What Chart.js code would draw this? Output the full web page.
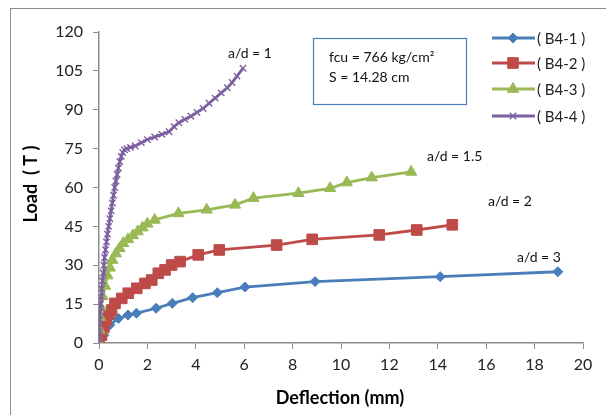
<!DOCTYPE html>
<html>
<head>
<meta charset="utf-8">
<script src="https://cdn.jsdelivr.net/npm/chart.js@4.4.0/dist/chart.umd.min.js"></script>
<style>
  html, body { margin: 0; padding: 0; background: #fff; overflow: hidden; }
  #wrap { position: relative; width: 606px; height: 415px; }
  #frame { position: absolute; left: 10px; top: 8px; width: 610px; height: 420px; border: 1px solid #8c8c8c; box-sizing: border-box; }
  canvas { position: absolute; left: 0; top: 0; }
</style>
</head>
<body>
<div id="wrap">
  <div id="frame"></div>
  <canvas id="graph1" width="606" height="415"></canvas>
</div>
<script>
// deflection (mm) and load (T) for each beam
var b41X = [0, 0.2, 0.45, 0.8, 1.2, 1.55, 2.36, 3.03, 3.87, 4.89, 6.03, 8.93, 14.1, 18.96];
var b41Y = [0, 3, 7, 9.5, 10.8, 11.5, 13.4, 15.3, 17.5, 19.4, 21.6, 23.7, 25.6, 27.5];

var b42X = [0, 0.1, 0.2, 0.3, 0.4, 0.52, 0.66, 0.94, 1.21, 1.56, 1.9, 2.18, 2.45, 2.73, 3.0, 3.35, 4.1, 4.97, 7.34, 8.81, 11.58, 13.13, 14.6];
var b42Y = [0, 3, 6, 9, 11, 12.7, 15.3, 17.2, 19.2, 21.1, 23.0, 24.3, 26.9, 28.2, 30.1, 31.4, 34, 35.9, 37.8, 40, 41.7, 43.6, 45.6];

var b43X = [0, 0.02, 0.04, 0.06, 0.15, 0.25, 0.35, 0.45, 0.55, 0.7, 0.85, 1.0, 1.2, 1.4, 1.6, 1.8, 2.0, 2.3, 3.28, 4.45, 5.62, 6.38, 8.24, 9.55, 10.24, 11.27, 12.9];
var b43Y = [0, 5, 10, 14, 18, 22, 26, 29, 32, 34.5, 36.5, 38.5, 40, 41.5, 43, 44.5, 46, 47.5, 50, 51.4, 53.3, 55.9, 57.8, 59.7, 61.9, 63.8, 66];

var b44X = [0, 0.01, 0.02, 0.03, 0.05, 0.07, 0.09, 0.11, 0.14, 0.17, 0.2, 0.23, 0.27, 0.31, 0.35, 0.4, 0.45, 0.5, 0.55, 0.6, 0.65, 0.7, 0.75, 0.8, 0.86, 0.92, 0.98, 1.05, 1.15, 1.3, 1.5, 1.75, 2.0, 2.3, 2.6, 2.9, 3.1, 3.3, 3.55, 3.8, 4.05, 4.3, 4.55, 4.8, 5.05, 5.3, 5.5, 5.7, 5.95];
var b44Y = [0, 3, 6, 9, 12, 15, 18, 21, 24, 27, 30, 33, 36, 39, 42, 45, 48, 51, 54, 57, 60, 62.5, 65, 67.5, 70, 72, 73.5, 74.5, 75, 75.5, 76, 77.3, 78.5, 79.5, 80.5, 81.5, 83.5, 85, 86.3, 87.5, 89, 90.5, 92.5, 94.5, 96.5, 98.5, 100.5, 103, 106];

var seriesNames = ['( B4-1 )', '( B4-2 )', '( B4-3 )', '( B4-4 )'];
var seriesColors = ['#4a7ebb', '#be4b48', '#98b954', '#7d60a0'];
var seriesMarkers = ['rectRot', 'rect', 'triangle', 'crossRot'];
var markerSizes = [5, 7.5, 6.5, 4.5];

var ratioLabels = ['a/d = 3', 'a/d = 2', 'a/d = 1.5', 'a/d = 1'];
var boxLines = ['fcu = 766 kg/cm\u00b2', 'S = 14.28 cm'];

var xTicks = [0, 2, 4, 6, 8, 10, 12, 14, 16, 18, 20];
var yTicks = [0, 15, 30, 45, 60, 75, 90, 105, 120];

var FONT = 'Lato, "Noto Sans", sans-serif';

function toPoints(xs, ys) {
  let pts = [];
  for (let i = 0; i < xs.length; i++) {
    pts.push({x: xs[i], y: ys[i]});
  }
  return pts;
}

var allX = [b41X, b42X, b43X, b44X];
var allY = [b41Y, b42Y, b43Y, b44Y];

var datasets = [];
for (let i = 0; i < 4; i++) {
  datasets.push({
    label: seriesNames[i],
    data: toPoints(allX[i], allY[i]),
    borderColor: seriesColors[i],
    backgroundColor: seriesColors[i],
    borderWidth: 2.8,
    pointStyle: seriesMarkers[i],
    pointRadius: markerSizes[i],
    pointBorderWidth: i == 3 ? 1.4 : 1,
    pointBorderColor: seriesColors[i],
    pointBackgroundColor: seriesColors[i],
    showLine: true,
    tension: 0,
    order: 3 - i
  });
}

// legend, axis titles, text box and a/d labels
var extras = {
  id: 'extras',
  afterDraw: function(chart) {
    var c = chart.ctx;
    c.save();

    // axis titles
    c.fillStyle = '#000';
    c.font = 'bold 18px ' + FONT;
    c.textAlign = 'center';
    c.textBaseline = 'middle';
    c.fillText('Deflection (mm)', 340, 398);
    c.save();
    c.translate(31, 184);
    c.rotate(-Math.PI / 2);
    c.fillText('Load  ( T )', 0, 0);
    c.restore();

    // legend
    var legY = [38, 63, 89, 116];
    for (let i = 0; i < 4; i++) {
      c.strokeStyle = seriesColors[i];
      c.lineWidth = 2.8;
      c.beginPath();
      c.moveTo(492, legY[i]);
      c.lineTo(535, legY[i]);
      c.stroke();
      c.fillStyle = seriesColors[i];
      c.lineWidth = i == 3 ? 1.4 : 1;
      Chart.helpers.drawPoint(c, {pointStyle: seriesMarkers[i], radius: markerSizes[i], rotation: 0, borderWidth: 1}, 513, legY[i]);
      c.fillStyle = '#222';
      c.font = '15px ' + FONT;
      c.textAlign = 'left';
      c.fillText(seriesNames[i], 537, legY[i] + 1);
    }

    // properties box
    c.strokeStyle = '#4a7ebb';
    c.lineWidth = 1.2;
    c.strokeRect(313.5, 38.5, 153, 66);
    c.fillStyle = '#111';
    c.font = '14px ' + FONT;
    c.textAlign = 'left';
    c.fillText(boxLines[0], 329, 57);
    c.fillText(boxLines[1], 329, 77);

    // shear span labels
    c.font = '14px ' + FONT;
    c.textAlign = 'left';
    var labPos = [[517, 257], [488, 201], [427, 156], [228, 53]];
    for (let i = 0; i < 4; i++) {
      c.fillText(ratioLabels[i], labPos[i][0], labPos[i][1]);
    }
    c.restore();
  }
};

var ctx = document.getElementById('graph1').getContext('2d');

var graph1 = new Chart(ctx, {
  type: 'scatter',
  data: {datasets: datasets},
  options: {
    responsive: false,
    animation: false,
    layout: {padding: {left: 0, right: 23, top: 32, bottom: 0}},
    plugins: {
      legend: {display: false},
      tooltip: {enabled: false}
    },
    scales: {
      x: {
        type: 'linear',
        min: 0,
        max: 20,
        afterBuildTicks: function(axis) { axis.ticks = xTicks.map(v => ({value: v})); },
        afterFit: function(axis) { axis.height = 72; },
        grid: {drawOnChartArea: false, drawTicks: true, tickLength: 6, color: '#8c8c8c'},
        border: {color: '#8c8c8c', width: 1.5},
        ticks: {color: '#222', font: {family: FONT, size: 16}, padding: 6, maxRotation: 0}
      },
      y: {
        type: 'linear',
        min: 0,
        max: 120,
        afterBuildTicks: function(axis) { axis.ticks = yTicks.map(v => ({value: v})); },
        afterFit: function(axis) { axis.width = 99; },
        grid: {drawOnChartArea: false, drawTicks: true, tickLength: 6, color: '#8c8c8c'},
        border: {color: '#8c8c8c', width: 1.5},
        ticks: {color: '#222', font: {family: FONT, size: 16}, padding: 10}
      }
    }
  },
  plugins: [extras]
});
</script>
</body>
</html>
